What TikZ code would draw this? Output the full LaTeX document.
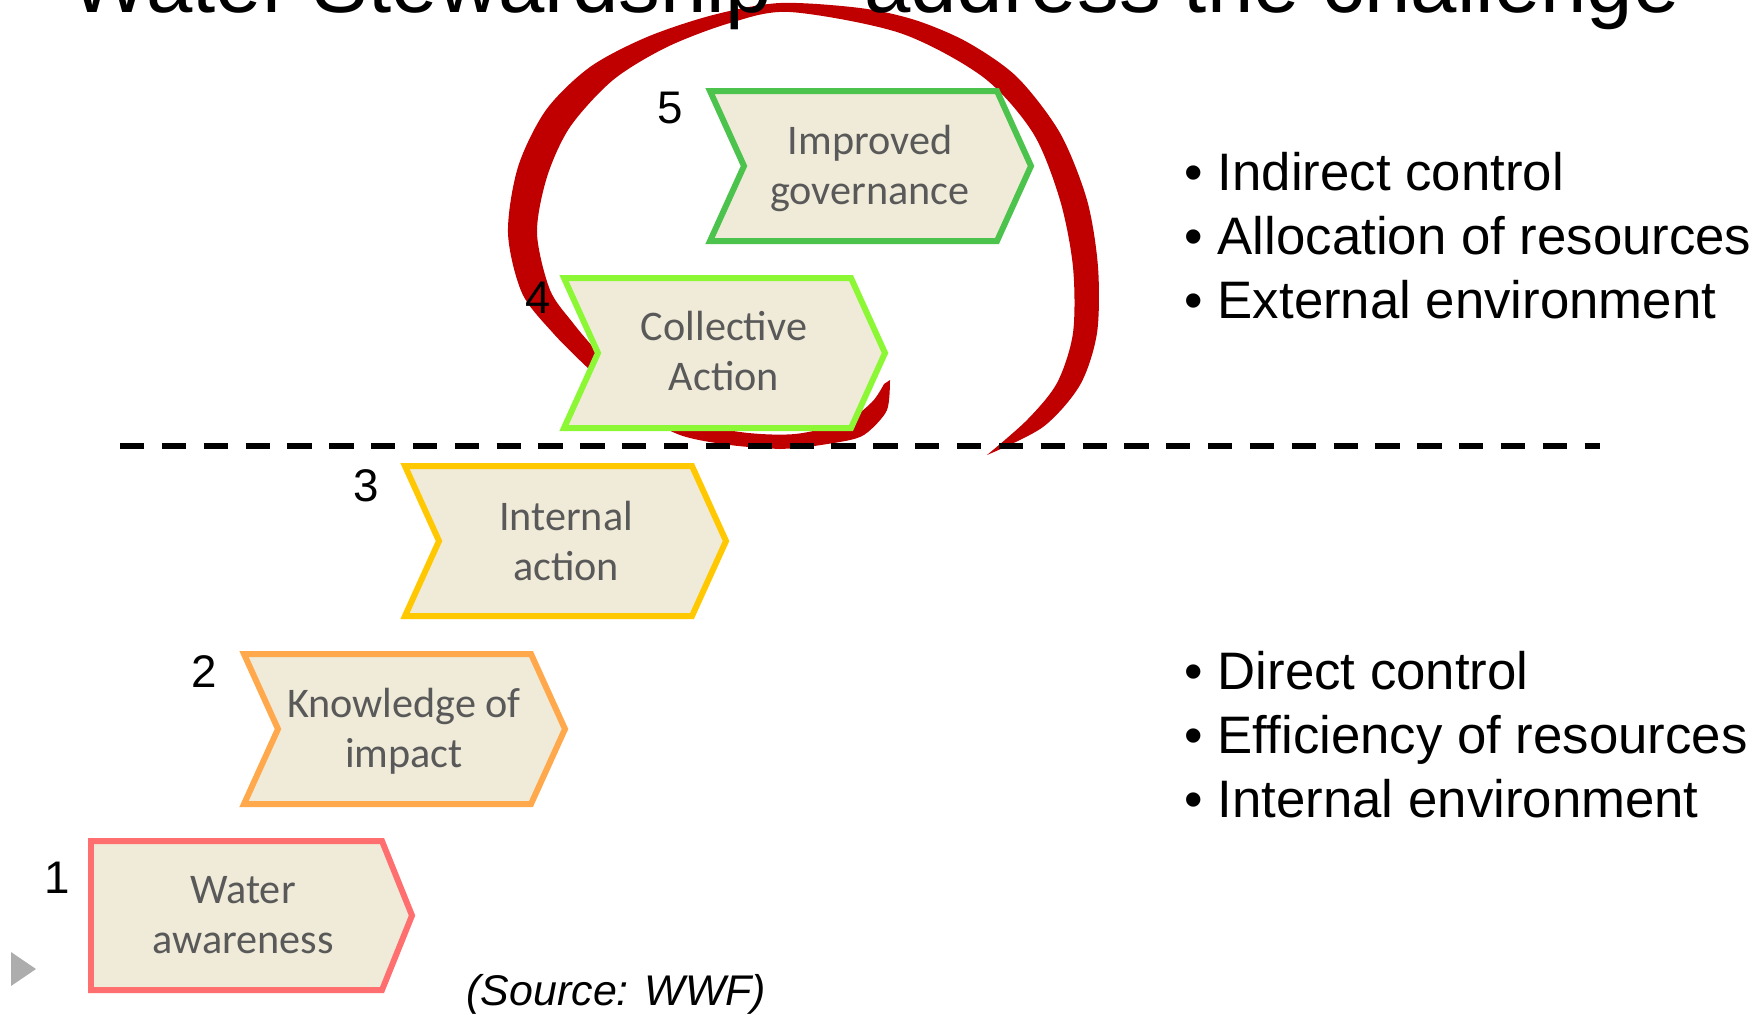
\documentclass[tikz,border=0pt]{standalone}
\usepackage{fontspec}
\setmainfont{Liberation Sans}
\newfontfamily\calibri{Carlito}
\definecolor{loopred}{HTML}{C00000}
\definecolor{beige}{HTML}{F0EBD8}
\definecolor{step1}{HTML}{FF6F6F}
\definecolor{step2}{HTML}{FFA84C}
\definecolor{step3}{HTML}{FFC800}
\definecolor{step4}{HTML}{8CF835}
\definecolor{step5}{HTML}{4CC34C}
\definecolor{labelgray}{HTML}{595959}
\definecolor{navgray}{HTML}{ADADAD}
\begin{document}
\begin{tikzpicture}[x=0.01cm, y=-0.01cm]
	\tikzstyle{Chevron} = [line width=1.7pt, fill=beige, line join=miter]
	\tikzstyle{Label} = [align=center, text=labelgray, inner sep=0pt, font=\calibri\fontsize{12}{14.2}\selectfont]
	\tikzstyle{Num} = [anchor=base, inner sep=0pt, font=\fontsize{13}{15}\selectfont]
	\tikzstyle{Bullets} = [anchor=north west, align=left, inner sep=0pt, font=\fontsize{15}{18.2}\selectfont]
	\clip (0,0) rectangle (1760,1014);
	% red loop round steps 4 and 5
	\fill [loopred] plot [smooth] coordinates {(890,380) (887,410) (868,432) (850,440) (800,448) (780,449) (730,445) (680,435) (635,410) (590,370) (553,333) (522,293) (508,233) (518,167) (546,110) (590,67) (647,37) (713,15) (780,3) (860,8) (915,20) (967,42) (1017,77) (1060,133) (1087,200) (1098,267) (1097,333) (1080,385) (1043,427) (987,455)}
		-- plot [smooth] coordinates {(987,455) (1027,420) (1057,383) (1073,333) (1073,267) (1060,200) (1033,133) (983,77) (900,33) (790,12) (730,23) (667,47) (613,80) (570,127) (547,177) (537,233) (550,290) (573,323) (593,347) (630,390) (680,418) (740,432) (795,434) (845,422) (872,402) (884,384)} -- cycle;
	\node (title) at (70,12) [anchor=base west, inner sep=0pt, font=\fontsize{23.7}{28}\selectfont] {Water Stewardship – address the challenge};
	% separator
	\coordinate (sepL) at (120,446);
	\coordinate (sepR) at (1600,446);
	\draw [line width=1.7pt, dash pattern=on 6.9pt off 5pt] (sepL) -- (sepR);
	% steps
	\draw [Chevron, draw=step5] (710,91) -- ++(287,0) -- ++(34,75) -- ++(-34,75) -- ++(-287,0) -- ++(34,-75) -- cycle;
	\draw [Chevron, draw=step4] (564,278) -- ++(287,0) -- ++(34,75) -- ++(-34,75) -- ++(-287,0) -- ++(34,-75) -- cycle;
	\draw [Chevron, draw=step3] (405,466) -- ++(287,0) -- ++(34,75) -- ++(-34,75) -- ++(-287,0) -- ++(34,-75) -- cycle;
	\draw [Chevron, draw=step2] (244,654) -- ++(287,0) -- ++(34,75) -- ++(-34,75) -- ++(-287,0) -- ++(34,-75) -- cycle;
	\draw [Chevron, draw=step1] (91,841) -- ++(291,0) -- ++(30,74.5) -- ++(-30,74.5) -- ++(-291,0) -- cycle;
	\node (gov) at (870,168) [Label] {Improved\\governance};
	\node (coll) at (724,351) [Label] {Collective\\Action};
	\node (int) at (566,541) [Label] {Internal\\action};
	\node (know) at (404,731) [Label] {Knowledge of\\impact};
	\node (aware) at (243,915) [Label] {Water\\awareness};
	\node (n5) at (670,123) [Num] {5};
	\node (n4) at (538,313) [Num] {4};
	\node (n3) at (366,501) [Num] {3};
	\node (n2) at (204,687) [Num] {2};
	\node (n1) at (57,893) [Num] {1};
	% control lists
	\node (upper) at (1184,152) [Bullets] {• Indirect control\\• Allocation of resources\\• External environment};
	\node (lower) at (1184,651) [Bullets] {• Direct control\\• Efficiency of resources\\• Internal environment};
	\node (src) at (466,1005) [anchor=base west, inner sep=0pt, font=\itshape\fontsize{12.2}{14}\selectfont] {(Source: WWF)};
	\fill [navgray] (11,952) -- (11,986) -- (36,969) -- cycle;
\end{tikzpicture}
\end{document}
